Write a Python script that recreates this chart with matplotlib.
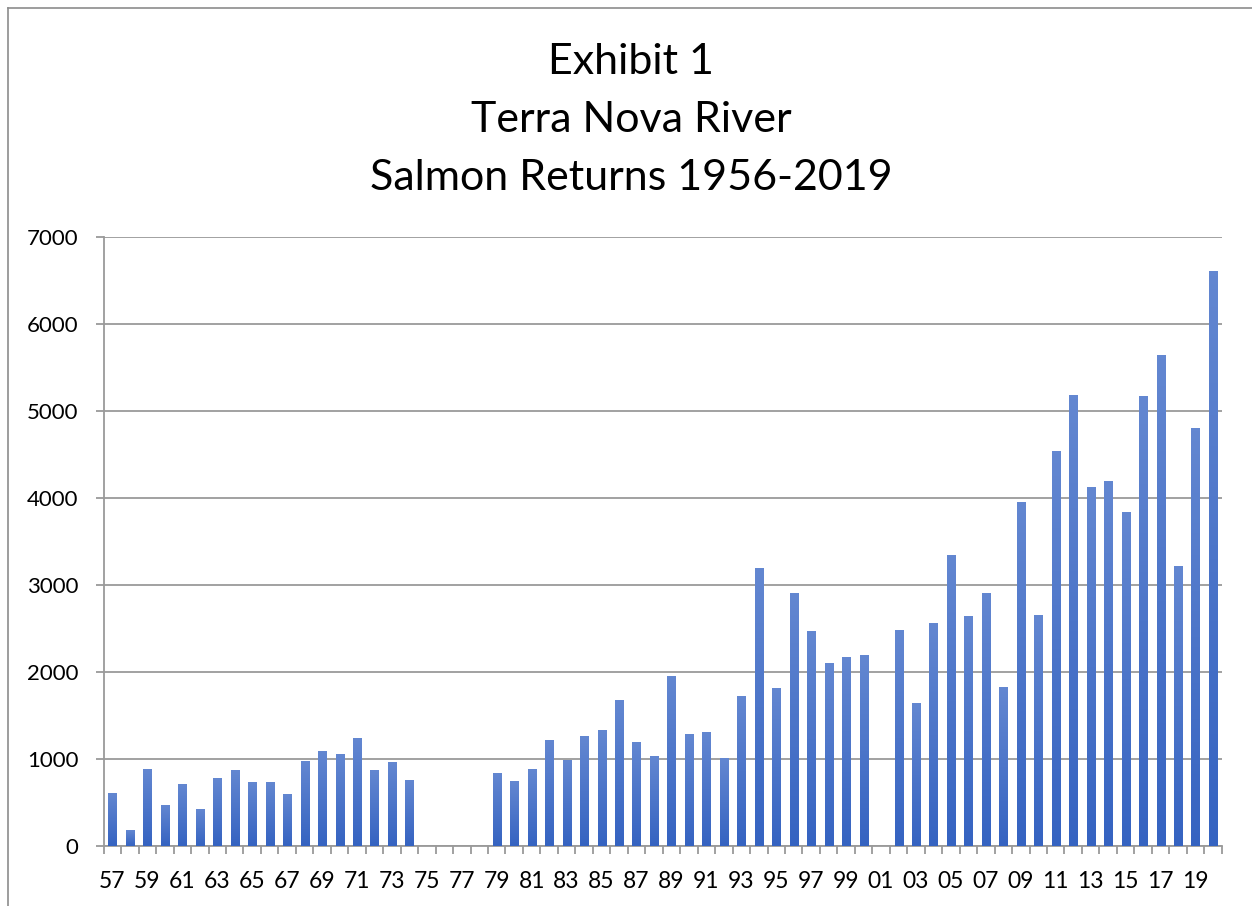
import matplotlib
matplotlib.use("Agg")
import matplotlib.pyplot as plt
import numpy as np
from matplotlib.colors import LinearSegmentedColormap
from matplotlib.lines import Line2D

plt.rcParams['font.family'] = ['Lato', 'DejaVu Sans']

# two-digit year labels, 1957 .. 2020 (75-78 and 01 have no data)
years = ['57', '58', '59', '60', '61', '62', '63', '64', '65', '66',
         '67', '68', '69', '70', '71', '72', '73', '74', '75', '76',
         '77', '78', '79', '80', '81', '82', '83', '84', '85', '86',
         '87', '88', '89', '90', '91', '92', '93', '94', '95', '96',
         '97', '98', '99', '00', '01', '02', '03', '04', '05', '06',
         '07', '08', '09', '10', '11', '12', '13', '14', '15', '16',
         '17', '18', '19', '20']
returns = [600, 173, 877, 462, 704, 415, 773, 865, 727, 727,
           588, 969, 1084, 1050, 1234, 866, 958, 750, 0, 0,
           0, 0, 831, 738, 877, 1207, 981, 1264, 1333, 1667,
           1195, 1027, 1943, 1287, 1299, 1000, 1713, 3184, 1816, 2897,
           2471, 2103, 2172, 2184, 0, 2479, 1640, 2559, 3341, 2640,
           2904, 1824, 3950, 2651, 4533, 5176, 4119, 4188, 3831, 5170,
           5636, 3210, 4800, 6602]
y_ticks = [0, 1000, 2000, 3000, 4000, 5000, 6000, 7000]
title_lines = ['Exhibit 1', 'Terra Nova River', 'Salmon Returns 1956-2019']

fig = plt.figure(figsize=(12.52, 9.06), dpi=100)
ax = fig.add_axes([103.7 / 1252, 1 - 846 / 906, 1118 / 1252, 609 / 906])

x = np.arange(len(years))
bar_w = 0.46
bars = ax.bar(x, returns, width=bar_w, color='#4a73c8', zorder=3)

# excel-like vertical gradient on each bar
cmap = LinearSegmentedColormap.from_list('bar', ['#3563c1', '#6387d1'])
grad = np.linspace(0, 1, 128).reshape(-1, 1)
for rect in bars:
    h = rect.get_height()
    if h <= 0:
        continue
    x0 = rect.get_x()
    ax.imshow(grad, extent=[x0, x0 + rect.get_width(), 0, h], origin='lower',
              aspect='auto', cmap=cmap, zorder=4)

ax.set_xlim(-0.5, len(years) - 0.5)
ax.set_ylim(0, 7000)

# grid + axes styling
ax.set_yticks(y_ticks)
ax.yaxis.grid(True, color='#9a9a9a', linewidth=1.3, zorder=0)
ax.set_axisbelow(True)
for s in ['top', 'right']:
    ax.spines[s].set_visible(False)
ax.spines['left'].set_color('#9a9a9a')
ax.spines['bottom'].set_color('#9a9a9a')
ax.spines['left'].set_linewidth(1.3)
ax.spines['bottom'].set_linewidth(1.3)

ax.tick_params(axis='y', length=6, width=1.3, color='#9a9a9a', pad=12,
               labelsize=16, labelcolor='#000000')

# tick marks at category boundaries, labels on every other category
ax.set_xticks(np.arange(-0.5, len(years), 1.0))
ax.set_xticklabels([])
ax.tick_params(axis='x', which='major', length=6, width=1.3, color='#9a9a9a')
ax.set_xticks(x[::2], minor=True)
ax.set_xticklabels(years[::2], minor=True)
ax.tick_params(axis='x', which='minor', length=0, pad=18, labelsize=16.5)

# title block
for i, line in enumerate(title_lines):
    fig.text(631 / 1252, 1 - (62 + i * 58) / 906, line, ha='center', va='center',
             fontsize=31, color='#000000')

# chart area border (left and top edges visible)
fig.add_artist(Line2D([7.5 / 1252, 7.5 / 1252], [0, 1 - 7.5 / 906],
                      transform=fig.transFigure, color='#8c8c8c', linewidth=1.2))
fig.add_artist(Line2D([7.5 / 1252, 1], [1 - 7.5 / 906, 1 - 7.5 / 906],
                      transform=fig.transFigure, color='#8c8c8c', linewidth=1.2))

fig.savefig('out.png', dpi=100)
